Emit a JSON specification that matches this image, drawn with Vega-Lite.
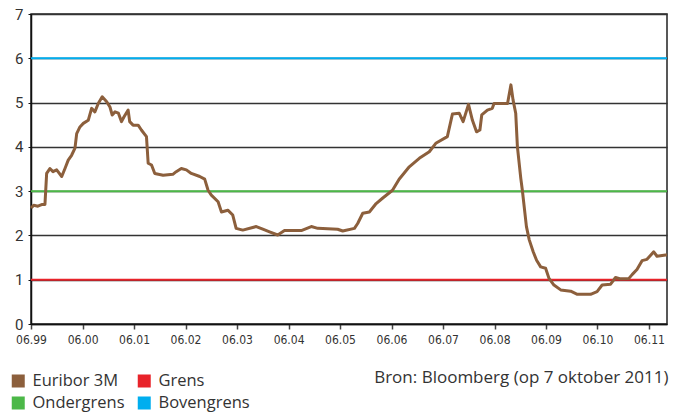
{
  "$schema": "https://vega.github.io/schema/vega-lite/v6.json",
  "autosize": {"type": "none"},
  "width": 636,
  "height": 310,
  "padding": {"left": 31, "top": 14, "right": 15, "bottom": 88},
  "background": "white",
  "config": {
    "font": "Open Sans",
    "view": {"stroke": "#222", "strokeWidth": 1.5}
  },
  "title": {
    "text": "Bron: Bloomberg (op 7 oktober 2011)",
    "orient": "bottom",
    "anchor": "end",
    "font": "Open Sans",
    "fontSize": 17,
    "fontWeight": "normal",
    "color": "#333",
    "offset": 0,
    "dy": -44
  },
  "datasets": {
    "euribor": [
      {"date": "1999-06-01", "rate": 2.62},
      {"date": "1999-06-20", "rate": 2.68},
      {"date": "1999-07-20", "rate": 2.66},
      {"date": "1999-08-20", "rate": 2.70},
      {"date": "1999-09-08", "rate": 2.70},
      {"date": "1999-09-20", "rate": 3.40},
      {"date": "1999-10-13", "rate": 3.51},
      {"date": "1999-11-04", "rate": 3.44},
      {"date": "1999-11-30", "rate": 3.48},
      {"date": "2000-01-05", "rate": 3.33},
      {"date": "2000-01-28", "rate": 3.51},
      {"date": "2000-02-20", "rate": 3.70},
      {"date": "2000-03-15", "rate": 3.81},
      {"date": "2000-04-08", "rate": 3.97},
      {"date": "2000-04-20", "rate": 4.30},
      {"date": "2000-05-13", "rate": 4.45},
      {"date": "2000-06-06", "rate": 4.53},
      {"date": "2000-07-11", "rate": 4.60},
      {"date": "2000-08-04", "rate": 4.87},
      {"date": "2000-08-27", "rate": 4.79},
      {"date": "2000-09-20", "rate": 4.98},
      {"date": "2000-10-18", "rate": 5.13},
      {"date": "2000-11-19", "rate": 5.02},
      {"date": "2000-12-12", "rate": 4.90},
      {"date": "2000-12-28", "rate": 4.72},
      {"date": "2001-01-17", "rate": 4.79},
      {"date": "2001-02-10", "rate": 4.76},
      {"date": "2001-03-04", "rate": 4.57},
      {"date": "2001-03-22", "rate": 4.68},
      {"date": "2001-04-20", "rate": 4.83},
      {"date": "2001-05-01", "rate": 4.57},
      {"date": "2001-05-25", "rate": 4.49},
      {"date": "2001-06-30", "rate": 4.49},
      {"date": "2001-07-23", "rate": 4.38},
      {"date": "2001-08-28", "rate": 4.23},
      {"date": "2001-09-09", "rate": 3.63},
      {"date": "2001-10-03", "rate": 3.59},
      {"date": "2001-10-26", "rate": 3.40},
      {"date": "2001-12-24", "rate": 3.36},
      {"date": "2002-03-03", "rate": 3.38},
      {"date": "2002-03-27", "rate": 3.44},
      {"date": "2002-05-02", "rate": 3.51},
      {"date": "2002-06-07", "rate": 3.48},
      {"date": "2002-07-12", "rate": 3.40},
      {"date": "2002-09-10", "rate": 3.33},
      {"date": "2002-10-15", "rate": 3.27},
      {"date": "2002-11-08", "rate": 3.02},
      {"date": "2002-12-01", "rate": 2.91},
      {"date": "2003-01-18", "rate": 2.76},
      {"date": "2003-02-11", "rate": 2.53},
      {"date": "2003-03-28", "rate": 2.57},
      {"date": "2003-05-02", "rate": 2.46},
      {"date": "2003-05-26", "rate": 2.16},
      {"date": "2003-07-12", "rate": 2.12},
      {"date": "2003-10-16", "rate": 2.20},
      {"date": "2003-12-01", "rate": 2.14},
      {"date": "2004-01-18", "rate": 2.08},
      {"date": "2004-03-16", "rate": 2.01},
      {"date": "2004-05-03", "rate": 2.11},
      {"date": "2004-08-30", "rate": 2.11},
      {"date": "2004-11-09", "rate": 2.20},
      {"date": "2004-12-25", "rate": 2.16},
      {"date": "2005-05-15", "rate": 2.14},
      {"date": "2005-06-20", "rate": 2.10},
      {"date": "2005-09-11", "rate": 2.16},
      {"date": "2005-10-04", "rate": 2.27},
      {"date": "2005-11-09", "rate": 2.50},
      {"date": "2005-12-26", "rate": 2.53},
      {"date": "2006-02-12", "rate": 2.72},
      {"date": "2006-03-29", "rate": 2.84},
      {"date": "2006-06-08", "rate": 3.02},
      {"date": "2006-07-25", "rate": 3.27},
      {"date": "2006-10-05", "rate": 3.55},
      {"date": "2006-12-15", "rate": 3.74},
      {"date": "2007-02-24", "rate": 3.89},
      {"date": "2007-04-11", "rate": 4.08},
      {"date": "2007-07-02", "rate": 4.23},
      {"date": "2007-08-07", "rate": 4.74},
      {"date": "2007-09-24", "rate": 4.76},
      {"date": "2007-10-22", "rate": 4.57},
      {"date": "2007-11-29", "rate": 4.96},
      {"date": "2007-12-27", "rate": 4.60},
      {"date": "2008-01-25", "rate": 4.34},
      {"date": "2008-02-18", "rate": 4.38},
      {"date": "2008-03-02", "rate": 4.72},
      {"date": "2008-04-11", "rate": 4.83},
      {"date": "2008-05-16", "rate": 4.87},
      {"date": "2008-05-28", "rate": 4.98},
      {"date": "2008-09-01", "rate": 4.98},
      {"date": "2008-09-25", "rate": 5.40},
      {"date": "2008-10-10", "rate": 5.06},
      {"date": "2008-10-29", "rate": 4.76},
      {"date": "2008-11-10", "rate": 4.00},
      {"date": "2008-12-04", "rate": 3.29},
      {"date": "2008-12-15", "rate": 3.02},
      {"date": "2009-01-13", "rate": 2.20},
      {"date": "2009-02-02", "rate": 1.90},
      {"date": "2009-03-02", "rate": 1.63},
      {"date": "2009-03-26", "rate": 1.44},
      {"date": "2009-04-24", "rate": 1.29},
      {"date": "2009-05-29", "rate": 1.26},
      {"date": "2009-06-22", "rate": 1.03},
      {"date": "2009-07-27", "rate": 0.88},
      {"date": "2009-09-13", "rate": 0.77},
      {"date": "2009-11-23", "rate": 0.74},
      {"date": "2010-01-09", "rate": 0.67},
      {"date": "2010-04-13", "rate": 0.67},
      {"date": "2010-05-29", "rate": 0.73},
      {"date": "2010-07-04", "rate": 0.88},
      {"date": "2010-09-02", "rate": 0.90},
      {"date": "2010-10-07", "rate": 1.05},
      {"date": "2010-11-12", "rate": 1.02},
      {"date": "2011-01-10", "rate": 1.03},
      {"date": "2011-02-03", "rate": 1.12},
      {"date": "2011-03-08", "rate": 1.23},
      {"date": "2011-04-13", "rate": 1.43},
      {"date": "2011-05-18", "rate": 1.46},
      {"date": "2011-07-05", "rate": 1.63},
      {"date": "2011-07-28", "rate": 1.53},
      {"date": "2011-09-27", "rate": 1.56},
      {"date": "2011-10-07", "rate": 1.56}
    ],
    "bounds": [
      {"series": "Grens", "value": 1},
      {"series": "Ondergrens", "value": 3},
      {"series": "Bovengrens", "value": 6}
    ]
  },
  "layer": [
    {
      "data": {"name": "bounds"},
      "mark": {"type": "rule", "strokeWidth": 2},
      "encoding": {
        "y": {
          "field": "value",
          "type": "quantitative",
          "scale": {"domain": [0, 7], "nice": false},
          "axis": {
            "values": [0, 1, 2, 3, 4, 5, 6, 7],
            "title": null,
            "grid": true,
            "gridColor": "#333",
            "gridWidth": 1.5,
            "domainColor": "#111",
            "domainWidth": 1.5,
            "tickColor": "#111",
            "tickSize": 3,
            "labelFontSize": 15,
            "labelColor": "#333",
            "labelPadding": 5,
            "labelFont": "Roboto"
          }
        },
        "color": {
          "field": "series",
          "type": "nominal",
          "scale": {
            "domain": ["Euribor 3M", "Grens", "Ondergrens", "Bovengrens"],
            "range": ["#8c5f3c", "#e8232a", "#4cb848", "#00aeef"]
          },
          "legend": {
            "orient": "none",
            "legendX": -21,
            "legendY": 356,
            "direction": "horizontal",
            "columns": 2,
            "gridAlign": "each",
            "columnPadding": 11,
            "rowPadding": 0,
            "clipHeight": 22,
            "title": null,
            "symbolType": "square",
            "symbolSize": 36,
            "symbolStrokeWidth": 7,
            "symbolOffset": 0,
            "labelFontSize": 16.5,
            "labelFont": "Open Sans",
            "labelColor": "#333",
            "labelOffset": 6
          }
        }
      }
    },
    {
      "data": {"name": "euribor"},
      "mark": {"type": "line", "strokeWidth": 3, "strokeJoin": "round"},
      "encoding": {
        "x": {
          "field": "date",
          "type": "temporal",
          "scale": {
            "type": "utc",
            "domain": [
              {"year": 1999, "month": 6, "date": 1, "utc": true},
              {"year": 2011, "month": 10, "date": 7, "utc": true}
            ]
          },
          "axis": {
            "title": null,
            "grid": false,
            "format": "%m.%y",
            "values": [
              {"year": 1999, "month": 6, "date": 1, "utc": true},
              {"year": 2000, "month": 6, "date": 1, "utc": true},
              {"year": 2001, "month": 6, "date": 1, "utc": true},
              {"year": 2002, "month": 6, "date": 1, "utc": true},
              {"year": 2003, "month": 6, "date": 1, "utc": true},
              {"year": 2004, "month": 6, "date": 1, "utc": true},
              {"year": 2005, "month": 6, "date": 1, "utc": true},
              {"year": 2006, "month": 6, "date": 1, "utc": true},
              {"year": 2007, "month": 6, "date": 1, "utc": true},
              {"year": 2008, "month": 6, "date": 1, "utc": true},
              {"year": 2009, "month": 6, "date": 1, "utc": true},
              {"year": 2010, "month": 6, "date": 1, "utc": true},
              {"year": 2011, "month": 6, "date": 1, "utc": true}
            ],
            "domainColor": "#111",
            "domainWidth": 1.5,
            "tickColor": "#444",
            "tickSize": 5,
            "tickWidth": 1.5,
            "labelFontSize": 12,
            "labelFont": "Liberation Sans Narrow, DejaVu Sans Condensed, sans-serif",
            "labelColor": "#333",
            "labelPadding": 5,
            "labelFlush": false,
            "labelOverlap": false
          }
        },
        "y": {"field": "rate", "type": "quantitative"},
        "color": {"datum": "Euribor 3M"}
      }
    }
  ]
}
